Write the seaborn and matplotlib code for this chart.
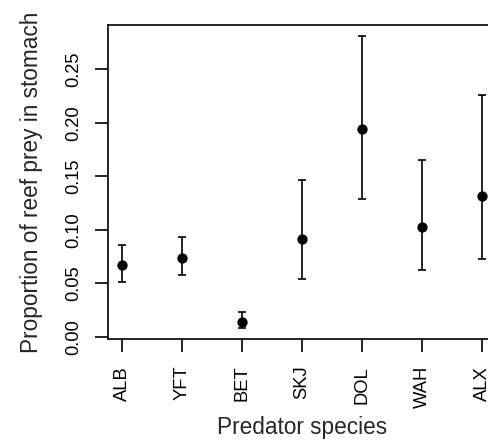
import matplotlib
matplotlib.use("Agg")
import matplotlib.pyplot as plt
import numpy as np
import pandas as pd
import seaborn as sns

# values
species = ["ALB", "YFT", "BET", "SKJ", "DOL", "WAH", "ALX"]
proportion = [0.067, 0.074, 0.014, 0.091, 0.194, 0.103, 0.132]
lower = [0.051, 0.058, 0.008, 0.054, 0.129, 0.062, 0.073]
upper = [0.086, 0.093, 0.023, 0.147, 0.281, 0.165, 0.226]
yticks = [0.00, 0.05, 0.10, 0.15, 0.20, 0.25]

df = pd.DataFrame({"species": species, "prop": proportion,
                   "lo": lower, "hi": upper})

sns.set_style("ticks")
plt.rcParams["font.family"] = ["Liberation Sans", "DejaVu Sans"]

fig = plt.figure(figsize=(4.88, 4.42), dpi=100)
ax = fig.add_axes([0.2213, 0.2330, 0.7959, 0.7104])

# error bars
ax.errorbar(np.arange(len(df)), df["prop"],
            yerr=[df["prop"] - df["lo"], df["hi"] - df["prop"]],
            fmt="none", ecolor="black", elinewidth=1.2, capsize=2.9, capthick=1.2)
sns.scatterplot(data=df, x="species", y="prop", color="black", s=55,
                edgecolor="black", linewidth=0, ax=ax, zorder=3)

ax.set_xlim(-0.24, 6.24)
ax.set_ylim(-0.0021, 0.2914)
ax.set_yticks(yticks)
ax.set_yticklabels([f"{v:.2f}" for v in yticks], rotation=90, va="center")
ax.set_xticks(range(len(species)))
ax.set_xticklabels(species, rotation=90)

for s in ax.spines.values():
    s.set_linewidth(1.2)
    s.set_color("black")
ax.tick_params(axis="both", length=9.3, width=1.2, labelsize=13.2, colors="black")
ax.tick_params(axis="x", pad=10)
ax.tick_params(axis="y", pad=9)

ax.set_xlabel("Predator species", fontsize=16.3, labelpad=6)
ax.set_ylabel("Proportion of reef prey in stomach", fontsize=16.3, labelpad=16)

fig.savefig("out.png", dpi=100)
